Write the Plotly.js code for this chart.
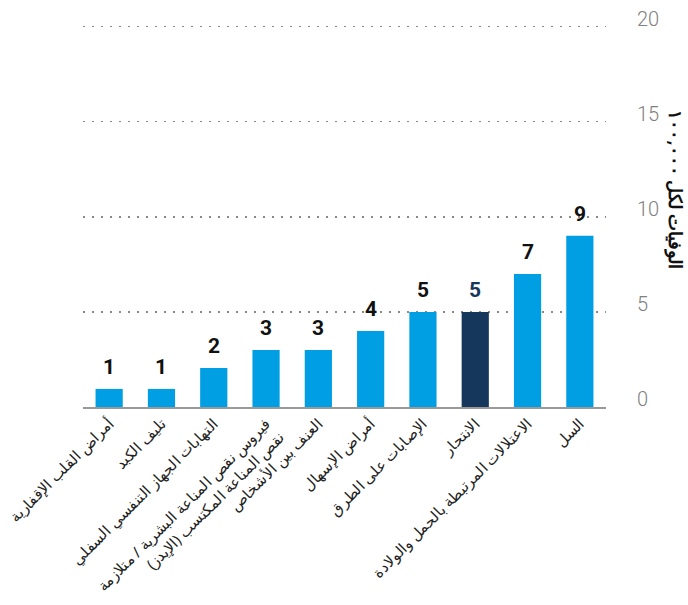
<!DOCTYPE html>
<html>
<head>
<meta charset="utf-8">
<script src="https://cdn.plot.ly/plotly-3.0.1.min.js"></script>
<style>html,body{margin:0;padding:0;background:#fff;}#chart{width:688px;height:605px;}</style>
</head>
<body>
<div id="chart"></div>
<script>
const categories = [
  "أمراض القلب الإقفارية",
  "تليف الكبد",
  "التهابات الجهاز التنفسي السفلي",
  "فيروس نقص المناعة البشرية / متلازمة<br>نقص المناعة المكتسب (الإيدز)",
  "العنف بين الأشخاص",
  "أمراض الإسهال",
  "الإصابات على الطرق",
  "الانتحار",
  "الاعتلالات المرتبطة بالحمل والولادة",
  "السل"
];
const values = [0.95, 0.95, 2.05, 3.0, 3.0, 4.0, 5.0, 5.0, 7.0, 9.0];
const highlight = "الانتحار";
const yTicks = [0, 5, 10, 15, 20];
const yTitle = "الوفيات لكل ١٠٠,٠٠٠";

const LIGHT = "#009FE3", DARK = "#16375C";
const colors = categories.map(c => c === highlight ? DARK : LIGHT);

const trace = {
  type: "bar",
  x: categories,
  y: values,
  marker: {color: colors},
  cliponaxis: false,
  hoverinfo: "skip"
};

const valueLabels = categories.map((c, i) => ({
  x: c, y: values[i], xref: "x", yref: "y",
  text: String(Math.round(values[i])),
  showarrow: false, xanchor: "center", yanchor: "bottom", yshift: 8,
  font: {family: "Roboto, Arial, sans-serif", size: 21, weight: 700,
         color: c === highlight ? DARK : "#111"}
}));

const layout = {
  width: 688, height: 605,
  margin: {l: 83, r: 82, t: 20, b: 198},
  paper_bgcolor: "#fff", plot_bgcolor: "#fff",
  showlegend: false,
  bargap: 0.48,
  font: {family: "Roboto, 'Noto Sans', sans-serif"},
  xaxis: {
    type: "category",
    tickangle: -45,
    tickfont: {size: 15, color: "#222", family: "'Noto Sans', sans-serif"},
    showline: true, linecolor: "#999", linewidth: 2,
    ticks: "", showgrid: false, zeroline: false,
    fixedrange: true
  },
  yaxis: {
    side: "right",
    range: [0, 20.35],
    tickvals: yTicks,
    ticktext: yTicks.map(String),
    tickfont: {size: 20, color: "#808080", family: "Roboto, sans-serif", weight: 300},
    ticks: "outside", ticklen: 26, tickcolor: "rgba(0,0,0,0)",
    ticklabelshift: -8,
    showgrid: true, gridcolor: "#888", gridwidth: 1.5, griddash: "1.5px,7.5px",
    zeroline: false, showline: false,
    fixedrange: true
  },
  annotations: valueLabels.concat([{
    text: yTitle,
    xref: "paper", yref: "paper",
    x: 1.134, y: 0.562, xanchor: "center", yanchor: "middle",
    showarrow: false, textangle: 90,
    font: {size: 18, color: "#111", weight: 700, family: "'Noto Sans', sans-serif"}
  }])
};

Plotly.newPlot("chart", [trace], layout, {displayModeBar: false, staticPlot: true});
</script>
</body>
</html>
